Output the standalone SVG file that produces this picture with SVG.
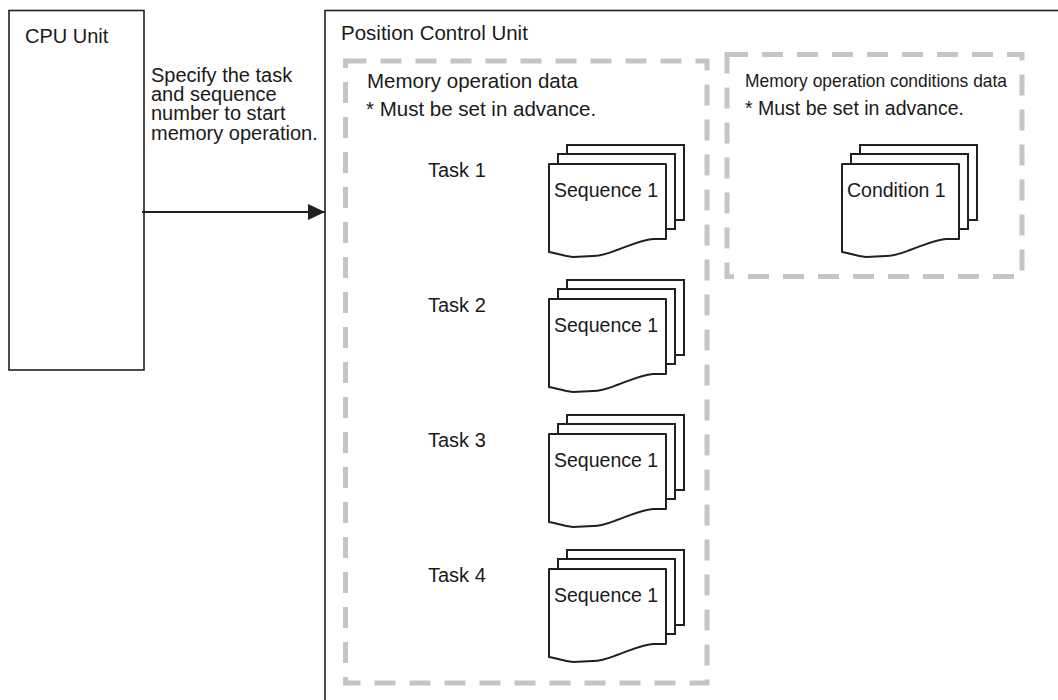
<svg xmlns="http://www.w3.org/2000/svg" xmlns:xlink="http://www.w3.org/1999/xlink" width="1058" height="700" viewBox="0 0 1058 700">
<style>
  .txt { font-family: "Liberation Sans", Arial, sans-serif; fill: #1a1a1a; }
  .box { fill: #ffffff; stroke: #231f20; stroke-width: 1.6; }
  .dash { fill: none; stroke: #c4c5c7; stroke-width: 5; stroke-dasharray: 21 14; }
  .page { fill: none; stroke: #231f20; stroke-width: 2; }
  .front { fill: #ffffff; stroke: #231f20; stroke-width: 2; stroke-linejoin: round; }
  .conn { stroke: #231f20; stroke-width: 2; fill: none; }
</style>
<defs>
  <marker id="arrow" markerWidth="18" markerHeight="16" refX="17" refY="8" orient="auto" markerUnits="userSpaceOnUse">
    <path d="M0,0 L17,8 L0,16 Z" fill="#231f20"/>
  </marker>
  <g id="stack">
    <path class="page" d="M18,-10 V-19 H135 V56 H126"/>
    <path class="page" d="M9,0 V-10 H126 V65 H117"/>
    <path class="front" d="M0,0 H117 V75 H104 C92,76 82,81 68,86 C60,89 53,92 44,92 L24,93 C14,92 7,89 0,88 Z"/>
  </g>
</defs>

<g id="cpu-unit">
  <rect class="box" x="9" y="10.5" width="135" height="359.5"/>
  <text class="txt" x="25" y="43" font-size="20">CPU Unit</text>
</g>

<g id="position-control-unit">
  <rect class="box" x="325" y="10.5" width="780" height="740"/>
  <text class="txt" x="341" y="40" font-size="20.5">Position Control Unit</text>
</g>

<g id="memory-operation-data">
  <rect class="dash" x="345.5" y="61" width="361.5" height="622"/>
  <text class="txt" x="367" y="88" font-size="20.5">Memory operation data</text>
  <text class="txt" x="366" y="116" font-size="20.5">* Must be set in advance.</text>
</g>

<g id="memory-operation-conditions-data">
  <rect class="dash" x="727" y="54.5" width="295" height="222"/>
  <text class="txt" x="745" y="87" font-size="18.5" textLength="262" lengthAdjust="spacingAndGlyphs">Memory operation conditions data</text>
  <text class="txt" x="745" y="115" font-size="19.5">* Must be set in advance.</text>
</g>

<g id="task1">
  <text class="txt" x="428" y="177" font-size="20">Task 1</text>
  <use xlink:href="#stack" href="#stack" transform="translate(549,164)"/>
  <text class="txt" x="554" y="197" font-size="19.5">Sequence 1</text>
</g>

<g id="task2">
  <text class="txt" x="428" y="312" font-size="20">Task 2</text>
  <use xlink:href="#stack" href="#stack" transform="translate(549,299)"/>
  <text class="txt" x="554" y="332" font-size="19.5">Sequence 1</text>
</g>

<g id="task3">
  <text class="txt" x="428" y="447" font-size="20">Task 3</text>
  <use xlink:href="#stack" href="#stack" transform="translate(549,434)"/>
  <text class="txt" x="554" y="467" font-size="19.5">Sequence 1</text>
</g>

<g id="task4">
  <text class="txt" x="428" y="582" font-size="20">Task 4</text>
  <use xlink:href="#stack" href="#stack" transform="translate(549,569)"/>
  <text class="txt" x="554" y="602" font-size="19.5">Sequence 1</text>
</g>

<g id="condition1">
  <use xlink:href="#stack" href="#stack" transform="translate(842,164)"/>
  <text class="txt" x="847" y="197" font-size="19.5">Condition 1</text>
</g>

<g id="connectors">
  <line class="conn" x1="142" y1="212" x2="325" y2="212" marker-end="url(#arrow)"/>
  <g class="txt" font-size="20">
    <text x="151" y="82">Specify the task</text>
    <text x="151" y="101">and sequence</text>
    <text x="151" y="120">number to start</text>
    <text x="151" y="140">memory operation.</text>
  </g>
</g>
</svg>
